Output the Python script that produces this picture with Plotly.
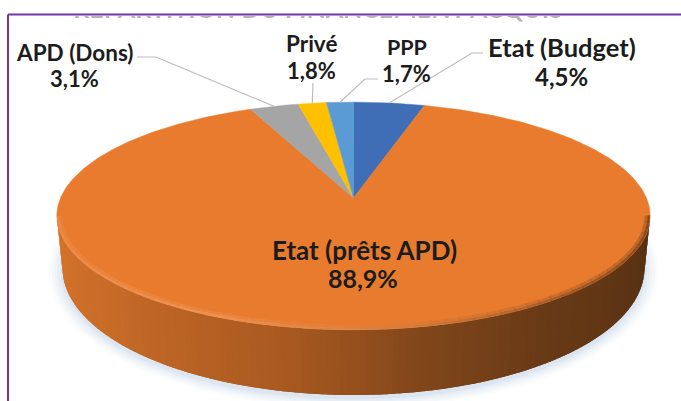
import math
import plotly.graph_objects as go

# ---- data ----
categories = ["Etat (Budget)", "Etat (prêts APD)", "APD (Dons)", "Privé", "PPP"]
values = [4.5, 88.9, 3.1, 1.8, 1.7]
slice_colors = ["#3F6EB7", "#E97B2F", "#A5A5A5", "#FFC000", "#5B9BD5"]
title_text = "REPARTITION DU FINANCEMENT ACQUIS"

# ---- layout (pixels of the 681x401 page) ----
W, H, TOP = 681, 401, 16
CX, APEX_Y, B, A, K = 353.5, 198, 293, 111, 0.158
ELL_Y, ELL_RX, ELL_RY = 216, 296.5, 114
LOW_Y, LOW_RX, LOW_RY = 268, 291, 127
# name centre, pct centre, leader start, leader elbow, name size, pct size
label_pos = {
    "Etat (Budget)": ((562, 47), (561, 76), (483, 53), (472, 53), 25.5, 24),
    "Etat (prêts APD)": ((364, 250), (363, 278), None, None, 26, 25),
    "APD (Dons)": ((74, 52), (74, 78), (137, 57), (156, 57), 22.5, 22),
    "Privé": ((311, 43), (311, 70), (313, 83), (313, 83), 22.5, 22),
    "PPP": ((407, 47), (406, 73), (378, 79), (365, 79), 21.5, 22),
}
FONT = "Lato"
TEXT = "#1c1c1c"


def rim(deg):
    """Point of the pie's top rim at a clockwise angle from the top (perspective)."""
    t = math.radians(deg)
    X, Y = math.sin(t), math.cos(t)
    d = 1 + K * Y
    return CX + B * X / d, APEX_Y - A * Y / d


def lerp_color(stops, f):
    for (f0, c0), (f1, c1) in zip(stops, stops[1:]):
        if f <= f1:
            u = (f - f0) / (f1 - f0)
            return tuple(round(a + (b - a) * u) for a, b in zip(c0, c1))
    return stops[-1][1]


def ell(cx, cy, rx, ry, phi):
    return cx - rx * math.cos(phi), cy + ry * math.sin(phi)


fig = go.Figure()

# soft shadow under the pie
for k, alpha in [(14, 0.05), (11, 0.06), (8, 0.08), (5, 0.10), (2, 0.14)]:
    pts = [ell(CX, LOW_Y + 3, LOW_RX + k, LOW_RY + k * 0.75, 2 * math.pi * i / 120) for i in range(121)]
    fig.add_trace(go.Scatter(x=[p[0] for p in pts], y=[p[1] for p in pts], mode="lines",
                             line=dict(width=0), fill="toself",
                             fillcolor=f"rgba(165,190,222,{alpha})", hoverinfo="skip"))

# side wall, shaded left to right
wall = [(0.0, (214, 116, 44)), (0.18, (201, 108, 40)), (0.42, (170, 90, 32)),
        (0.58, (128, 70, 26)), (0.72, (104, 58, 22)), (1.0, (84, 48, 18))]
N = 140
for i in range(N):
    p0, p1 = math.pi * i / N, math.pi * (i + 2.2) / N
    p1 = min(p1, math.pi)
    t0, t1 = ell(CX, ELL_Y, ELL_RX, ELL_RY, p0), ell(CX, ELL_Y, ELL_RX, ELL_RY, p1)
    l0, l1 = ell(CX, LOW_Y, LOW_RX, LOW_RY, p0), ell(CX, LOW_Y, LOW_RX, LOW_RY, p1)
    r, g, b = lerp_color(wall, (i + 0.5) / N)
    fig.add_trace(go.Scatter(x=[t0[0], t1[0], l1[0], l0[0], t0[0]],
                             y=[t0[1], t1[1], l1[1], l0[1], t0[1]],
                             mode="lines", line=dict(width=0), fill="toself",
                             fillcolor=f"rgb({r},{g},{b})", hoverinfo="skip"))

# top face slices, drawn from the values
total = sum(values)
start = 0.0
mid_angle = {}
for name, val, col in zip(categories, values, slice_colors):
    sweep = 360 * val / total
    n = max(3, int(sweep * 2))
    arc = [rim(start + sweep * j / n) for j in range(n + 1)]
    xs = [CX] + [p[0] for p in arc] + [CX]
    ys = [APEX_Y] + [p[1] for p in arc] + [APEX_Y]
    fig.add_trace(go.Scatter(x=xs, y=ys, mode="lines", name=name, line=dict(width=0.5, color=col),
                             fill="toself", fillcolor=col, hoverinfo="skip"))
    mid_angle[name] = start + sweep / 2
    start += sweep

# bevel along the front rim
bevel = [(0.0, (236, 140, 76)), (0.35, (240, 150, 90)), (0.55, (214, 124, 62)),
         (0.75, (150, 84, 34)), (1.0, (112, 64, 26))]
M = 60
for width, alpha, inset in [(5, 0.35, 3.0), (2.5, 0.7, 1.2)]:
    for i in range(M):
        p0, p1 = math.pi * i / M, math.pi * (i + 1.1) / M
        a = ell(CX, ELL_Y, ELL_RX - inset, ELL_RY - inset, p0)
        c = ell(CX, ELL_Y, ELL_RX - inset, ELL_RY - inset, p1)
        r, g, b = lerp_color(bevel, (i + 0.5) / M)
        fig.add_trace(go.Scatter(x=[a[0], c[0]], y=[a[1], c[1]], mode="lines",
                                 line=dict(width=width, color=f"rgba({r},{g},{b},{alpha})"),
                                 hoverinfo="skip"))

# leader lines: from the label to the rim at each slice's mid angle
for name in categories:
    _, _, s, e, _, _ = label_pos[name]
    if s is None:
        continue
    end = rim(mid_angle[name])
    fig.add_trace(go.Scatter(x=[s[0], e[0], end[0]], y=[s[1], e[1], end[1]], mode="lines",
                             line=dict(width=1.2, color="#BDBDBD"), hoverinfo="skip"))

# title, mostly cut off by the top of the plot area
fig.add_trace(go.Scatter(x=[318], y=[11.5], mode="text", text=[title_text], cliponaxis=True,
                         textposition="middle center",
                         textfont=dict(family=FONT, size=25, color="rgba(60,60,70,0.4)", weight="bold"),
                         hoverinfo="skip"))

ann = []
for name, val in zip(categories, values):
    c1, c2, _, _, s1, s2 = label_pos[name]
    pct = f"{val:.1f}%".replace(".", ",")
    for txt, c, sz in ((name, c1, s1), (pct, c2, s2)):
        ann.append(dict(x=c[0], y=c[1], text=f"<b>{txt}</b>", showarrow=False, xref="x", yref="y",
                        xanchor="center", yanchor="middle",
                        font=dict(family=FONT, size=sz, color=TEXT)))


def px(x):
    return x / W


def py(y):
    return (H - y) / (H - TOP)


purple = "#7535A8"
shapes = [
    dict(type="line", xref="paper", yref="paper", x0=px(8), x1=1, y0=py(14.5), y1=py(14.5),
         line=dict(color=purple, width=2)),
    dict(type="line", xref="paper", yref="paper", x0=px(8), x1=px(8), y0=py(14.5), y1=0,
         line=dict(color=purple, width=2)),
]

fig.update_layout(
    width=W, height=H, showlegend=False, paper_bgcolor="white", plot_bgcolor="white",
    margin=dict(l=0, r=0, t=TOP, b=0), annotations=ann, shapes=shapes,
    xaxis=dict(range=[0, W], visible=False, fixedrange=True),
    yaxis=dict(range=[H, TOP], visible=False, fixedrange=True),
)
fig.write_html("out.html", config={"displayModeBar": False},
               post_script="document.body.style.margin='0';document.body.style.overflow='hidden';")
